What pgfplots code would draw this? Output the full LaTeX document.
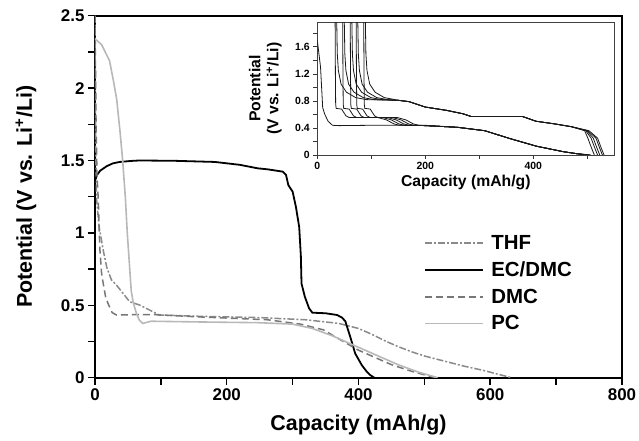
\documentclass[border=0pt]{standalone}
\usepackage{fontspec}
\setmainfont{Liberation Sans}
\usepackage{pgfplots}
\pgfplotsset{compat=1.18}
\definecolor{thfc}{HTML}{8A8A8A}
\definecolor{dmcc}{HTML}{777777}
\definecolor{pcc}{HTML}{B8B8B8}
\tikzset{ins/.style={black!90, line width=0.8bp, mark=none}}
\begin{document}
\begin{tikzpicture}
\path[use as bounding box] (-95bp,-63.3bp) rectangle (544bp,377.7bp);
\begin{axis}[
  at={(0,0)}, anchor=south west, scale only axis,
  width=527bp, height=362bp,
  xmin=0, xmax=800, ymin=0, ymax=2.5,
  xtick={0,200,400,600,800}, minor xtick={100,300,500,700},
  ytick={0,0.5,1,1.5,2,2.5}, minor ytick={0.25,0.75,1.25,1.75,2.25},
  xtick pos=bottom, ytick pos=left,
  tick align=outside, major tick length=7bp, minor tick length=7bp,
  every tick/.style={line width=1.5bp, black},
  axis line style={line width=1.8bp},
  /pgf/number format/assume math mode=true,
  ticklabel style={font=\fontsize{17}{20}\selectfont\bfseries},
  xlabel={Capacity (mAh/g)},
  ylabel={Potential (V vs. Li\textsuperscript{+}/Li)},
  label style={font=\fontsize{21.5}{25}\selectfont\bfseries},
  xlabel style={at={([yshift=-47bp]axis description cs:0.5,0)}, anchor=center},
  ylabel style={at={([xshift=-69bp]axis description cs:0,0.5)}, anchor=center},
  legend style={at={(axis cs:500,1.0)}, anchor=north west, draw=none, fill=none,
    font=\fontsize{20.5}{24}\selectfont\bfseries, row sep=7bp, inner sep=0pt},
  legend cell align=left,
  legend image code/.code={\draw[#1] (0bp,0bp) -- (58bp,0bp); \path (63bp,0bp);},
]
\addplot[thfc, line width=1.5bp, dash pattern=on 7bp off 2bp on 2bp off 2bp] coordinates {
(0,2.5)(1,1.6)(2.5,1.23)(6,1.05)(12.5,0.88)(18,0.76)(25,0.675)(32.5,0.64)(42.5,0.583)(52.5,0.525)(67.5,0.502)(82.5,0.468)(97.5,0.433)(150,0.425)(250,0.415)(320,0.40)(370,0.375)(400,0.34)(420,0.30)(440,0.255)(460,0.215)(480,0.18)(500,0.15)(530,0.115)(560,0.08)(590,0.05)(615,0.02)(633,0)};
\addlegendentry{THF}
\addplot[black, line width=1.8bp] coordinates {
(0,1.36)(3,1.40)(8,1.43)(17.5,1.46)(27,1.48)(37.5,1.49)(55,1.497)(67,1.5)(120,1.498)(182,1.49)(220,1.47)(247,1.446)(262,1.439)(285,1.423)(290,1.40)(293.5,1.33)(300,1.285)(305,1.18)(310,1.04)(312.5,0.84)(313.5,0.65)(318.5,0.56)(325,0.479)(330,0.449)(350,0.445)(367.5,0.433)(375,0.415)(380,0.39)(387.5,0.282)(395,0.167)(405,0.087)(412,0.045)(417.5,0.019)(424,0)};
\addlegendentry{EC/DMC}
\addplot[dmcc, line width=1.5bp, dash pattern=on 7bp off 4bp] coordinates {
(0,2.5)(1.5,1.8)(3,1.4)(5,1.23)(6.5,1.0)(7.5,0.88)(10,0.72)(12.5,0.65)(16,0.56)(20,0.51)(26,0.45)(32.5,0.433)(60,0.435)(92.5,0.435)(157.5,0.42)(262,0.40)(312,0.37)(347,0.33)(377,0.25)(400,0.19)(420,0.15)(450,0.09)(480,0.045)(500,0.02)(518,0)};
\addlegendentry{DMC}
\addplot[pcc, line width=1.6bp] coordinates {
(0,2.34)(10,2.30)(22,2.19)(28,2.05)(33,1.92)(38,1.7)(42,1.5)(46,1.25)(49,1.0)(52,0.8)(55,0.6)(58,0.52)(62.5,0.45)(67,0.40)(72.5,0.375)(85,0.39)(157.5,0.385)(247,0.38)(300,0.37)(330,0.34)(360,0.29)(380,0.25)(400,0.21)(430,0.15)(460,0.09)(490,0.04)(520,0)};
\addlegendentry{PC}
\end{axis}
\begin{axis}[
  at={(222.3bp,222.7bp)}, anchor=south west, scale only axis,
  width=297bp, height=132.7bp,
  xmin=0, xmax=550, ymin=0, ymax=1.965,
  xtick={0,200,400}, minor xtick={100,300,500},
  ytick={0,0.4,0.8,1.2,1.6}, minor ytick={0.2,0.6,1.0,1.4,1.8},
  xtick pos=bottom, ytick pos=left,
  tick align=outside, major tick length=4bp, minor tick length=4bp,
  every tick/.style={line width=0.9bp, black!80},
  axis line style={line width=0.9bp, black!75},
  /pgf/number format/assume math mode=true,
  ticklabel style={font=\fontsize{10.5}{12}\selectfont\bfseries},
  xlabel={Capacity (mAh/g)},
  ylabel={Potential\\(V vs. Li\textsuperscript{+}/Li)},
  label style={font=\fontsize{15.8}{18}\selectfont\bfseries},
  xlabel style={at={([yshift=-27bp]axis description cs:0.5,0)}, anchor=center},
  ylabel style={at={([xshift=-52bp]axis description cs:0,0.5)}, anchor=center, align=center},
]
\addplot[ins] coordinates {(0,1.7)(3,1.5)(6,1.3)(8,1.0)(10,0.7)(14,0.6)(20,0.5)(28,0.44)(40,0.435)(100,0.44)(200,0.44)(260,0.41)(310,0.36)(358,0.24)(406,0.13)(455,0.05)(480,0.02)(497,0)};
% family A
\addplot[ins] coordinates {(33,1.97)(33.5,1.2)(34,0.75)(35,0.69)(45,0.68)(53,0.58)(59,0.555)(112,0.555)(128,0.52)(142,0.46)(152,0.44)(200,0.435)(260,0.41)(310,0.36)(358,0.24)(406,0.13)(455,0.05)(480,0.02)(499,0)};
\addplot[ins] coordinates {(47,1.97)(47.5,1.2)(48,0.75)(49,0.69)(59,0.68)(67,0.58)(73,0.555)(121,0.555)(137,0.52)(151,0.46)(161,0.44)(200,0.435)(260,0.41)(310,0.36)(358,0.24)(406,0.13)(455,0.05)(480,0.02)(501,0)};
\addplot[ins] coordinates {(61,1.97)(61.5,1.2)(62,0.75)(63,0.69)(73,0.68)(81,0.58)(87,0.555)(130,0.555)(146,0.52)(160,0.46)(170,0.44)(200,0.435)(260,0.41)(310,0.36)(358,0.24)(406,0.13)(455,0.05)(480,0.02)(503,0)};
\addplot[ins] coordinates {(72,1.97)(72.5,1.2)(73,0.75)(74,0.69)(84,0.68)(92,0.58)(98,0.555)(139,0.555)(155,0.52)(169,0.46)(179,0.44)(200,0.435)(260,0.41)(310,0.36)(358,0.24)(406,0.13)(455,0.05)(480,0.02)(505,0)};
\addplot[ins] coordinates {(86,1.97)(86.5,1.2)(87,0.75)(88,0.69)(98,0.68)(106,0.58)(112,0.555)(148,0.555)(164,0.52)(178,0.46)(188,0.44)(200,0.435)(260,0.41)(310,0.36)(358,0.24)(406,0.13)(455,0.05)(480,0.02)(507,0)};
% family B
\addplot[ins] coordinates {(36,1.97)(37,1.5)(39,1.25)(44,1.05)(54,0.93)(71,0.85)(91,0.82)(150,0.81)(170,0.79)(200,0.71)(240,0.66)(270,0.61)(285,0.57)(380,0.57)(405,0.5)(440,0.46)(470,0.42)(495,0.36)(501,0.25)(508,0.1)(513,0)};
\addplot[ins] coordinates {(50,1.97)(51,1.5)(53,1.25)(58,1.05)(68,0.93)(85,0.85)(105,0.82)(150,0.81)(170,0.79)(200,0.71)(240,0.66)(270,0.61)(285,0.57)(380,0.57)(405,0.5)(440,0.46)(470,0.42)(497,0.36)(507,0.25)(514,0.1)(519,0)};
\addplot[ins] coordinates {(64,1.97)(65,1.5)(67,1.25)(72,1.05)(82,0.93)(99,0.85)(119,0.82)(150,0.81)(170,0.79)(200,0.71)(240,0.66)(270,0.61)(285,0.57)(380,0.57)(405,0.5)(440,0.46)(470,0.42)(499,0.36)(511,0.25)(518,0.1)(523,0)};
\addplot[ins] coordinates {(75,1.97)(76,1.5)(78,1.25)(83,1.05)(93,0.93)(110,0.85)(130,0.82)(150,0.81)(170,0.79)(200,0.71)(240,0.66)(270,0.61)(285,0.57)(380,0.57)(405,0.5)(440,0.46)(470,0.42)(501,0.36)(516,0.25)(523,0.1)(528,0)};
\addplot[ins] coordinates {(89,1.97)(90,1.5)(92,1.25)(97,1.05)(107,0.93)(124,0.85)(144,0.82)(150,0.81)(170,0.79)(200,0.71)(240,0.66)(270,0.61)(285,0.57)(380,0.57)(405,0.5)(440,0.46)(470,0.42)(503,0.36)(519,0.25)(526,0.1)(531,0)};
\end{axis}
\end{tikzpicture}
\end{document}
